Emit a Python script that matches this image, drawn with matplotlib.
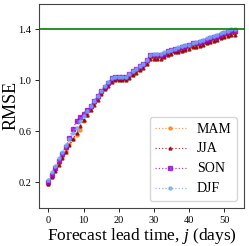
import numpy as np
import matplotlib
matplotlib.use("Agg")
import matplotlib.pyplot as plt

plt.rcParams['font.family'] = ['Liberation Serif', 'DejaVu Serif']
plt.rcParams['mathtext.fontset'] = 'custom'
plt.rcParams['mathtext.it'] = 'Liberation Serif:italic'
plt.rcParams['mathtext.rm'] = 'Liberation Serif'

lead = np.arange(54)

jja = [0.19, 0.24, 0.29, 0.34, 0.39, 0.44, 0.49, 0.54, 0.59, 0.64,
       0.69, 0.73, 0.77, 0.81, 0.85, 0.89, 0.93, 0.96, 0.99, 1.00,
       1.00, 1.00, 1.00, 1.02, 1.04, 1.06, 1.08, 1.10, 1.13, 1.17,
       1.17, 1.17, 1.17, 1.18, 1.20, 1.21, 1.22, 1.22, 1.23, 1.24,
       1.25, 1.26, 1.26, 1.27, 1.28, 1.29, 1.30, 1.31, 1.32, 1.33,
       1.34, 1.35, 1.36, 1.36]
mam = [0.19, 0.25, 0.30, 0.35, 0.40, 0.45, 0.50, 0.54, 0.57, 0.61,
       0.68, 0.73, 0.78, 0.82, 0.86, 0.90, 0.94, 0.97, 1.00, 1.01,
       1.01, 1.01, 1.01, 1.03, 1.05, 1.07, 1.09, 1.11, 1.14, 1.18,
       1.18, 1.18, 1.18, 1.19, 1.21, 1.22, 1.23, 1.23, 1.24, 1.25,
       1.26, 1.27, 1.27, 1.28, 1.29, 1.30, 1.31, 1.32, 1.33, 1.34,
       1.35, 1.36, 1.37, 1.37]
son = [0.20, 0.26, 0.31, 0.37, 0.42, 0.48, 0.55, 0.62, 0.68, 0.71,
       0.74, 0.77, 0.80, 0.84, 0.88, 0.92, 0.95, 0.98, 1.02, 1.03,
       1.03, 1.03, 1.03, 1.05, 1.07, 1.09, 1.11, 1.13, 1.16, 1.20,
       1.20, 1.20, 1.20, 1.21, 1.23, 1.24, 1.25, 1.25, 1.26, 1.27,
       1.28, 1.29, 1.29, 1.30, 1.31, 1.32, 1.33, 1.34, 1.35, 1.36,
       1.37, 1.38, 1.39, 1.39]
djf = [0.22, 0.28, 0.33, 0.39, 0.44, 0.49, 0.54, 0.59, 0.63, 0.68,
       0.72, 0.76, 0.80, 0.84, 0.88, 0.92, 0.96, 0.99, 1.02, 1.03,
       1.03, 1.03, 1.03, 1.05, 1.07, 1.09, 1.11, 1.13, 1.16, 1.20,
       1.21, 1.21, 1.21, 1.22, 1.23, 1.24, 1.25, 1.26, 1.27, 1.28,
       1.28, 1.29, 1.30, 1.31, 1.32, 1.33, 1.34, 1.35, 1.36, 1.37,
       1.38, 1.39, 1.40, 1.40]

seasons = ['MAM', 'JJA', 'SON', 'DJF']
colors = ['#ff7f0e', '#8b0000', '#9400d3', '#6fa8f5']
markers = ['o', '^', 's', 'o']

fig, ax = plt.subplots(figsize=(2.49, 2.46), dpi=100)
for vals, name, c, m in zip([mam, jja, son, djf], seasons, colors, markers):
    ax.plot(lead, vals, linestyle=':', color=c, marker=m, markersize=2.2,
            linewidth=0.9, alpha=0.75, label=name)
ax.axhline(1.4, color='green', linewidth=1.2)

ax.set_ylim(0, 1.6)
ax.set_yticks([0.2, 0.6, 1.0, 1.4])
ax.set_xticks([0, 10, 20, 30, 40, 50])
ax.tick_params(labelsize=7.5, length=3, width=0.6, pad=2.5)
ax.set_ylabel('RMSE', fontsize=13)
ax.yaxis.set_label_coords(-0.095, 0.5)
ax.set_xlabel('Forecast lead time, $j$ (days)', fontsize=12.5, labelpad=1)
for s in ax.spines.values():
    s.set_color('#444444')
    s.set_linewidth(0.8)
ax.legend(loc='lower right', fontsize=10, handlelength=2.2,
          borderaxespad=0.5, labelspacing=0.5)

fig.subplots_adjust(left=0.157, right=0.98, top=0.984, bottom=0.155)
fig.savefig('out.png')
